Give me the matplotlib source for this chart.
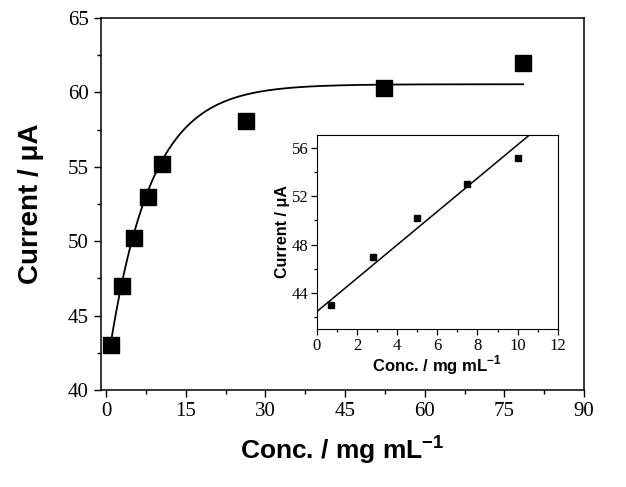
import numpy as np
import matplotlib
matplotlib.use('Agg')
import matplotlib.pyplot as plt
from matplotlib.ticker import MultipleLocator

# main plot data (as drawn)
conc = [0.9, 3.0, 5.3, 7.9, 10.6, 26.4, 52.4, 78.5]
current = [43.0, 47.0, 50.2, 52.95, 55.2, 58.1, 60.3, 61.95]

# saturation fit
fit_top = 60.55
fit_amp = 19.45
fit_tau = 7.9

# inset data
ins_conc = [0.7, 2.8, 5.0, 7.5, 10.0]
ins_current = [43.0, 47.0, 50.2, 53.0, 55.2]
ins_slope = 1.38
ins_icpt = 42.45

serif = 'Liberation Serif'
sans = 'Liberation Sans'
plt.rcParams['mathtext.fontset'] = 'custom'
plt.rcParams['mathtext.bf'] = 'Liberation Sans:bold'
plt.rcParams['mathtext.rm'] = 'Liberation Sans:bold'

xlab = 'Conc. / mg mL$^{\\mathbf{-1}}$'
ylab = 'Current / \u03bcA'

fig = plt.figure(figsize=(6.26, 4.87), dpi=100)
ax = fig.add_axes([0.161, 0.199, 0.772, 0.764])

xf = np.linspace(conc[0], conc[-1], 300)
ax.plot(xf, fit_top - fit_amp * np.exp(-xf / fit_tau), color='black', lw=1.3)
ax.plot(conc, current, 's', color='black', ms=11)

ax.set_xlim(-1, 90)
ax.set_ylim(40, 65)
ax.xaxis.set_major_locator(MultipleLocator(15))
ax.xaxis.set_minor_locator(MultipleLocator(7.5))
ax.yaxis.set_major_locator(MultipleLocator(5))
ax.yaxis.set_minor_locator(MultipleLocator(2.5))
ax.tick_params(which='both', direction='out', top=False, right=False, width=1)
ax.tick_params(which='major', length=5, labelsize=15)
ax.tick_params(which='minor', length=3)
for lab in ax.get_xticklabels() + ax.get_yticklabels():
    lab.set_fontfamily(serif)
for s in ax.spines.values():
    s.set_linewidth(1.1)
ax.set_xlabel(xlab, fontfamily=sans, fontweight='bold', fontsize=19, labelpad=9)
ax.set_ylabel(ylab, fontfamily=sans, fontweight='bold', fontsize=20, labelpad=17)

# inset
ins = fig.add_axes([0.506, 0.324, 0.385, 0.399])
xl = np.array([0, 12])
ins.plot(xl, ins_icpt + ins_slope * xl, color='black', lw=1.1)
ins.plot(ins_conc, ins_current, 's', color='black', ms=5)
ins.set_xlim(0, 12)
ins.set_ylim(41, 57.07)
ins.xaxis.set_major_locator(MultipleLocator(2))
ins.xaxis.set_minor_locator(MultipleLocator(1))
ins.yaxis.set_major_locator(MultipleLocator(4))
ins.yaxis.set_minor_locator(MultipleLocator(2))
ins.tick_params(which='both', direction='out', top=False, right=False, width=0.9)
ins.tick_params(which='major', length=4, labelsize=12, pad=2)
ins.tick_params(which='minor', length=2)
for lab in ins.get_xticklabels() + ins.get_yticklabels():
    lab.set_fontfamily(serif)
ins.set_xlabel(xlab, fontfamily=sans, fontweight='bold', fontsize=12, labelpad=0)
ins.set_ylabel(ylab, fontfamily=sans, fontweight='bold', fontsize=11.5, labelpad=1)

fig.savefig('out.png', dpi=100)
